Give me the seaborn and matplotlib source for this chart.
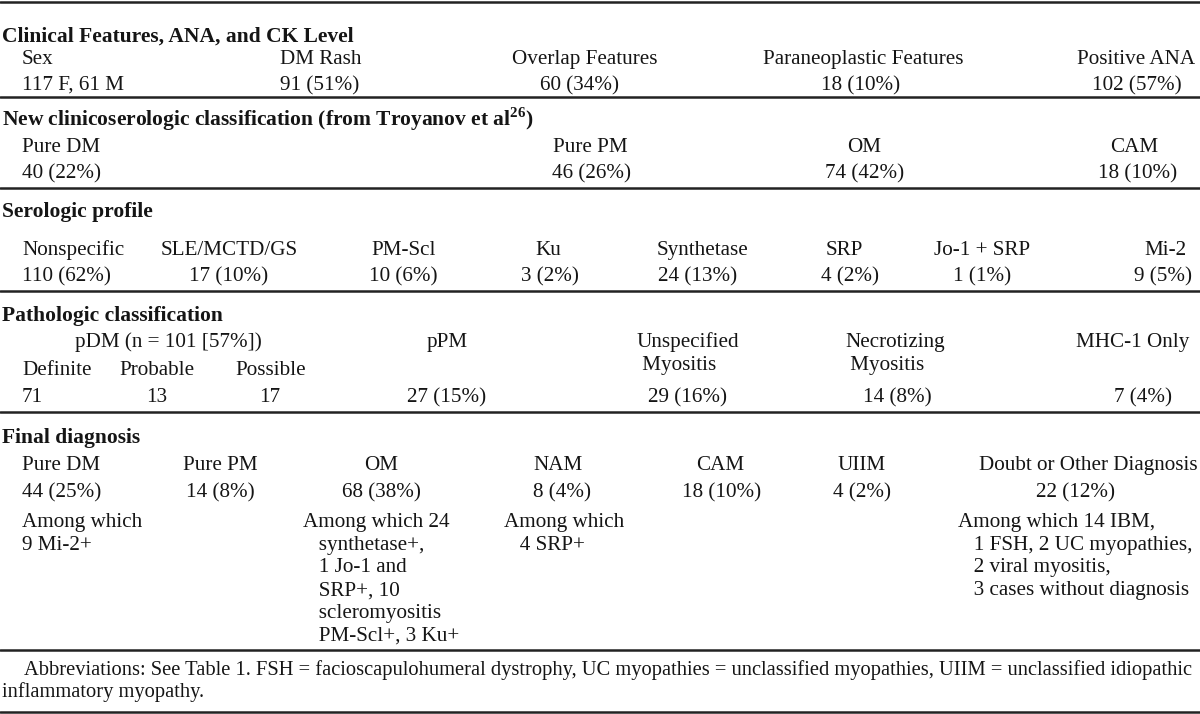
import matplotlib
matplotlib.use("Agg")
import matplotlib.pyplot as plt
import seaborn as sns

sns.set_theme(style="white")
plt.rcParams["font.family"] = ["Liberation Serif", "DejaVu Serif"]
plt.rcParams["mathtext.fontset"] = "custom"
plt.rcParams["mathtext.rm"] = "Liberation Serif"
plt.rcParams["mathtext.bf"] = "Liberation Serif:bold"

# ---- table content ----
clinical_title = "Clinical Features, ANA, and CK Level"
clinical_labels = ["Sex", "DM Rash", "Overlap Features", "Paraneoplastic Features", "Positive ANA"]
clinical_values = ["117 F, 61 M", "91 (51%)", "60 (34%)", "18 (10%)", "102 (57%)"]

troyanov_title = r"New clinicoserologic classification (from Troyanov et al$^{\mathbf{26}}$)"
troyanov_labels = ["Pure DM", "Pure PM", "OM", "CAM"]
troyanov_values = ["40 (22%)", "46 (26%)", "74 (42%)", "18 (10%)"]

sero_title = "Serologic profile"
sero_labels = ["Nonspecific", "SLE/MCTD/GS", "PM-Scl", "Ku", "Synthetase", "SRP", "Jo-1 + SRP", "Mi-2"]
sero_values = ["110 (62%)", "17 (10%)", "10 (6%)", "3 (2%)", "24 (13%)", "4 (2%)", "1 (1%)", "9 (5%)"]

patho_title = "Pathologic classification"
pdm_group = "pDM (n = 101 [57%])"
pdm_labels = ["Definite", "Probable", "Possible"]
pdm_values = ["71", "13", "17"]
patho_labels = ["pPM", "Unspecified\n Myositis", "Necrotizing\n Myositis", "MHC-1 Only"]
patho_values = ["27 (15%)", "29 (16%)", "14 (8%)", "7 (4%)"]

final_title = "Final diagnosis"
final_labels = ["Pure DM", "Pure PM", "OM", "NAM", "CAM", "UIIM", "Doubt or Other Diagnosis"]
final_values = ["44 (25%)", "14 (8%)", "68 (38%)", "8 (4%)", "18 (10%)", "4 (2%)", "22 (12%)"]
final_notes = [
    "Among which\n9 Mi-2+",
    "",
    "Among which 24\n   synthetase+,\n   1 Jo-1 and\n   SRP+, 10\n   scleromyositis\n   PM-Scl+, 3 Ku+",
    "Among which\n   4 SRP+",
    "",
    "",
    "Among which 14 IBM,\n   1 FSH, 2 UC myopathies,\n   2 viral myositis,\n   3 cases without diagnosis",
]

footnote = ["Abbreviations: See Table 1. FSH = facioscapulohumeral dystrophy, UC myopathies = "
            "unclassified myopathies, UIIM = unclassified idiopathic",
            "inflammatory myopathy."]

# ---- layout (pixels, y = visual centre of a line) ----
FS = 15.2
FS_BOLD = 15.5
FS_NOTE = 14.75
INK = "#151515"
STEP = 22.7
rules_y = [2, 97, 188, 291, 412, 650, 712]

fig = plt.figure(figsize=(12, 7.14), dpi=100)
ax = fig.add_axes([0, 0, 1, 1])
ax.set_xlim(0, 1200)
ax.set_ylim(714, 0)
ax.axis("off")

for y in rules_y:
    ax.axhline(y, color="#222222", lw=1.8)


def put(x, y, s, ha="center", bold=False, size=None):
    # draw on the baseline so glyphs with descenders don't shift the line
    if size is None:
        size = FS_BOLD if bold else FS
    ax.text(x, y + 7, s, ha=ha, va="baseline", fontsize=size, color=INK,
            fontweight="bold" if bold else "normal")


def put_lines(x, y, s, ha="left"):
    for i, line in enumerate(s.split("\n")):
        put(x, y + i * STEP, line, ha=ha)


def row(labels, values, xs_lab, xs_val, aligns, y_lab, y_val):
    for lab, val, xl, xv, a in zip(labels, values, xs_lab, xs_val, aligns):
        put(xl, y_lab, lab, ha=a)
        put(xv, y_val, val, ha=a)


# section 1
put(2, 35, clinical_title, ha="left", bold=True)
row(clinical_labels, clinical_values,
    [22, 321, 585, 863, 1136], [22, 320, 580, 861, 1137],
    ["left", "center", "center", "center", "center"], 57, 83)

# section 2
put(2, 119, troyanov_title, ha="left", bold=True)
row(troyanov_labels, troyanov_values,
    [22, 590, 864, 1134], [22, 591, 865, 1138],
    ["left", "center", "center", "center"], 145, 171)

# section 3
put(2, 210, sero_title, ha="left", bold=True)
row(sero_labels, sero_values,
    [22, 229, 404, 548, 703, 844, 982, 1165],
    [22, 229, 403, 550, 698, 850, 982, 1163],
    ["left"] + ["center"] * 7, 248, 274)

# section 4
put(2, 314, patho_title, ha="left", bold=True)
put(168, 340, pdm_group)
row(pdm_labels, pdm_values, [22, 157, 271], [22, 157, 270],
    ["left", "center", "center"], 368, 395)
for lab, val, x, xv in zip(patho_labels, patho_values, [447, 637, 845, 1133], [447, 688, 897, 1143]):
    if "\n" in lab:
        put_lines(x, 340, lab)
    else:
        put(x, 340, lab)
    put(xv, 395, val)

# section 5
put(2, 436, final_title, ha="left", bold=True)
row(final_labels, final_values,
    [22, 220, 381, 558, 720, 862, 1088],
    [22, 220, 381, 562, 722, 862, 1076],
    ["left"] + ["center"] * 6, 463, 490)
for note, x in zip(final_notes, [22, 0, 303, 504, 0, 0, 958]):
    if note:
        put_lines(x, 520, note)

# footnote
ax.text(24, 668 + 7, footnote[0], ha="left", va="baseline", fontsize=FS_NOTE, color=INK)
ax.text(2, 690 + 7, footnote[1], ha="left", va="baseline", fontsize=FS_NOTE, color=INK)

fig.savefig("out.png", dpi=100)
